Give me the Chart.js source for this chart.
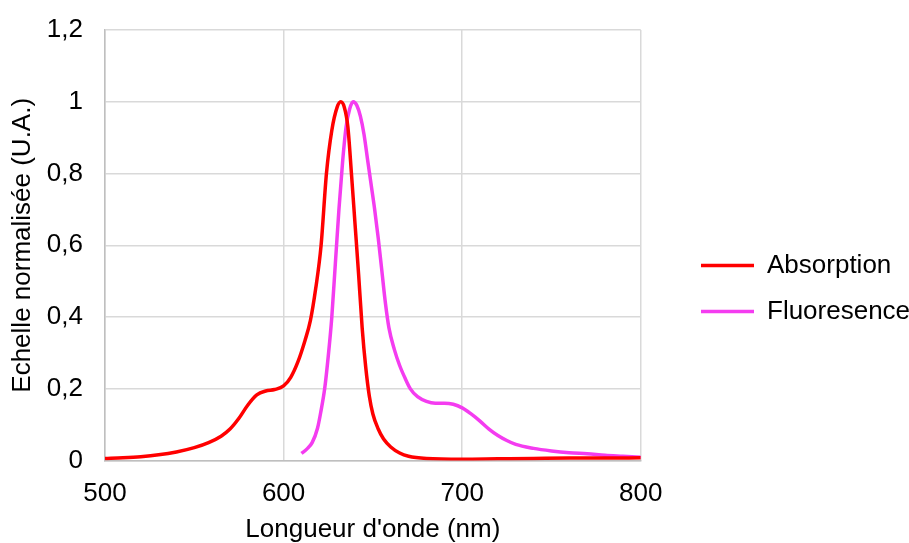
<!DOCTYPE html>
<html><head><meta charset="utf-8">
<script src="https://cdn.jsdelivr.net/npm/chart.js@4.4.1/dist/chart.umd.min.js"></script>
<style>html,body{margin:0;padding:0;background:#fff}#wrap{width:909px;height:543px}</style>
</head><body><div id="wrap"><canvas id="c"></canvas></div>
<script>
const absWavelengths = [500,510,520,530,540,550,558,565,570,575,580,585,590,595,600,604,608,612,615,618,621,624,627,630,632,634,636,638,640,642,644,646,648,650,653,656,660,665,670,680,700,720,740,760,780,800];
const absValues = [0.006,0.008,0.011,0.016,0.024,0.036,0.050,0.068,0.088,0.118,0.155,0.183,0.194,0.198,0.208,0.232,0.275,0.335,0.39,0.48,0.60,0.80,0.92,0.985,1.0,0.985,0.93,0.80,0.66,0.52,0.37,0.26,0.18,0.13,0.088,0.060,0.038,0.021,0.012,0.006,0.004,0.005,0.006,0.007,0.007,0.008];
const fluoWavelengths = [610,613,616,619,621,623,625,627,629,631,633,635,637,639,641,643,645,647,649,651,653,655,657,659,662,665,668,671,675,680,685,690,695,700,705,710,715,720,725,730,740,750,760,770,780,790,800];
const fluoValues = [0.02,0.032,0.05,0.09,0.14,0.20,0.29,0.40,0.55,0.70,0.83,0.93,0.98,1.0,0.99,0.96,0.91,0.84,0.77,0.70,0.62,0.53,0.44,0.37,0.31,0.265,0.23,0.20,0.178,0.165,0.16,0.16,0.157,0.147,0.13,0.11,0.088,0.07,0.056,0.045,0.034,0.027,0.022,0.019,0.015,0.012,0.009];
const seriesNames = ["Absorption","Fluoresence"];
const xTitle = "Longueur d'onde (nm)";
const yTitle = "Echelle normalisée (U.A.)";

const font = {family: "'Liberation Sans', Arial, sans-serif", size: 26};
const pts = (xs, ys) => xs.map((x, i) => ({x, y: ys[i]}));

const legendShift = {
  id: 'legendShift',
  afterLayout(chart) {
    const lg = chart.legend;
    const d = (702 - 21) - lg.left;
    lg.left += d;
    lg.right = chart.width;
    lg.top += 1; lg.bottom += 1;
  }
};

new Chart(document.getElementById('c'), {
  type: 'line',
  data: {
    datasets: [
      {label: seriesNames[0], data: pts(absWavelengths, absValues), borderColor: '#ff0000', backgroundColor: '#ff0000', borderWidth: 3.5, pointRadius: 0, cubicInterpolationMode: 'monotone'},
      {label: seriesNames[1], data: pts(fluoWavelengths, fluoValues), borderColor: '#f43cf0', backgroundColor: '#f43cf0', borderWidth: 3.5, pointRadius: 0, cubicInterpolationMode: 'monotone'}
    ]
  },
  plugins: [legendShift],
  options: {
    responsive: true, maintainAspectRatio: false, animation: false,
    layout: {padding: {top: 30, right: 57, left: 7, bottom: -2}},
    plugins: {
      tooltip: {enabled: false},
      legend: {
        position: 'right',
        labels: {usePointStyle: true, pointStyle: 'line', pointStyleWidth: 53, boxHeight: 4, color: '#000', font: font, padding: 20}
      }
    },
    scales: {
      x: {
        type: 'linear', min: 500, max: 800,
        ticks: {stepSize: 100, color: '#000', font: font, padding: 18},
        grid: {color: '#d9d9d9', lineWidth: 1.5, drawTicks: false},
        border: {color: '#bfbfbf', width: 1.5},
        title: {display: true, text: xTitle, color: '#000', font: font, padding: {top: -14, bottom: 0}}
      },
      y: {
        min: 0, max: 1.2,
        afterFit: s => { s.width = 98; s.paddingTop = 0; },
        ticks: {stepSize: 0.2, color: '#000', font: font, padding: 22, callback: v => String(Math.round(v*10)/10).replace('.', ',')},
        grid: {color: '#d9d9d9', lineWidth: 1.5, drawTicks: false},
        border: {color: '#bfbfbf', width: 1.5},
        title: {display: true, text: yTitle, color: '#000', font: font, padding: {top: 0, bottom: 4}}
      }
    }
  }
});
</script></body></html>
